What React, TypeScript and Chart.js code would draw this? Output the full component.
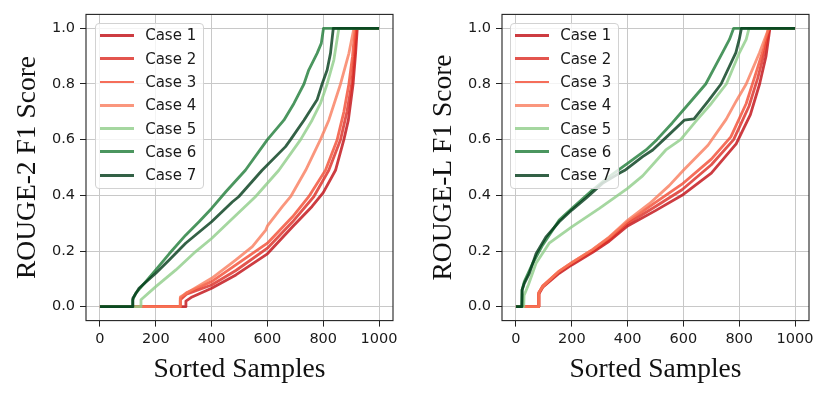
import { useEffect, useRef, type FC } from 'react';
import Chart from 'chart.js/auto';

type Pt = [number, number];

const caseNames = ['Case 1', 'Case 2', 'Case 3', 'Case 4', 'Case 5', 'Case 6', 'Case 7'];
const caseColors = ['#c00b12', '#dc2a22', '#f24a31', '#f97c5c', '#8ecd88', '#1e7c37', '#003a18'];
const xTicks = [0, 200, 400, 600, 800, 1000];
const yTicks = [0, 0.2, 0.4, 0.6, 0.8, 1.0];

// ROUGE-2 panel, points
const rouge2Case1: Pt[] = [[0, 0], [307, 0], [308, 0.02], [330, 0.035], [400, 0.066], [487, 0.114], [600, 0.19], [690, 0.287], [760, 0.36], [800, 0.41], [844, 0.49], [874, 0.6], [890, 0.67], [907, 0.8], [916, 0.91], [922, 1], [1000, 1]];
const rouge2Case2: Pt[] = [[0, 0], [287, 0], [288, 0.025], [310, 0.045], [400, 0.078], [487, 0.13], [600, 0.21], [690, 0.305], [766, 0.395], [820, 0.49], [862, 0.6], [885, 0.7], [902, 0.8], [912, 0.9], [919, 1], [1000, 1]];
const rouge2Case3: Pt[] = [[0, 0], [287, 0], [288, 0.03], [310, 0.05], [400, 0.09], [487, 0.15], [600, 0.228], [690, 0.323], [748, 0.395], [808, 0.49], [850, 0.6], [874, 0.7], [892, 0.8], [905, 0.9], [914, 1], [1000, 1]];
const rouge2Case4: Pt[] = [[0, 0], [287, 0], [288, 0.035], [319, 0.054], [400, 0.102], [487, 0.168], [546, 0.216], [594, 0.275], [600, 0.29], [654, 0.36], [683, 0.395], [737, 0.49], [790, 0.6], [820, 0.67], [862, 0.8], [892, 0.91], [910, 1], [1000, 1]];
const rouge2Case5: Pt[] = [[0, 0], [146, 0], [147, 0.025], [200, 0.072], [272, 0.132], [343, 0.198], [400, 0.245], [475, 0.317], [557, 0.395], [641, 0.49], [719, 0.6], [760, 0.67], [790, 0.73], [814, 0.8], [838, 0.886], [856, 1], [1000, 1]];
const rouge2Case6: Pt[] = [[0, 0], [116, 0], [117, 0.024], [128, 0.048], [164, 0.09], [200, 0.132], [248, 0.19], [307, 0.257], [355, 0.305], [400, 0.353], [451, 0.413], [521, 0.49], [600, 0.6], [659, 0.67], [695, 0.73], [731, 0.8], [748, 0.85], [778, 0.91], [793, 0.946], [801, 1], [1000, 1]];
const rouge2Case7: Pt[] = [[0, 0], [117, 0], [118, 0.03], [140, 0.066], [200, 0.12], [248, 0.168], [307, 0.228], [400, 0.305], [475, 0.377], [497, 0.395], [581, 0.49], [665, 0.575], [683, 0.6], [731, 0.67], [778, 0.743], [796, 0.8], [814, 0.85], [826, 0.91], [836, 1], [1000, 1]];

// ROUGE-L panel
const rougeLCase1: Pt[] = [[0, 0], [81, 0], [82, 0.045], [96, 0.07], [155, 0.12], [200, 0.15], [275, 0.195], [334, 0.235], [400, 0.29], [500, 0.345], [595, 0.4], [700, 0.48], [789, 0.585], [840, 0.69], [873, 0.8], [896, 0.9], [910, 1], [1000, 1]];
const rougeLCase2: Pt[] = [[0, 0], [81, 0], [82, 0.05], [96, 0.072], [155, 0.125], [200, 0.155], [275, 0.2], [334, 0.24], [400, 0.298], [500, 0.36], [595, 0.42], [700, 0.51], [780, 0.6], [835, 0.72], [866, 0.82], [892, 0.92], [908, 1], [1000, 1]];
const rougeLCase3: Pt[] = [[0, 0], [81, 0], [82, 0.05], [96, 0.075], [155, 0.128], [200, 0.158], [275, 0.205], [334, 0.248], [400, 0.305], [500, 0.375], [595, 0.44], [700, 0.53], [770, 0.61], [825, 0.73], [860, 0.84], [888, 0.93], [905, 1], [1000, 1]];
const rougeLCase4: Pt[] = [[0, 0], [81, 0], [82, 0.05], [96, 0.072], [155, 0.128], [200, 0.158], [275, 0.206], [334, 0.25], [400, 0.31], [478, 0.37], [549, 0.435], [600, 0.49], [688, 0.58], [753, 0.673], [790, 0.74], [825, 0.8], [873, 0.913], [906, 1], [1000, 1]];
const rougeLCase5: Pt[] = [[0, 0], [28, 0], [29, 0.04], [45, 0.08], [72, 0.156], [119, 0.228], [200, 0.287], [299, 0.353], [400, 0.425], [454, 0.47], [537, 0.563], [590, 0.6], [648, 0.67], [700, 0.73], [754, 0.8], [801, 0.913], [825, 0.96], [835, 1], [1000, 1]];
const rougeLCase6: Pt[] = [[0, 0], [21, 0], [22, 0.06], [30, 0.09], [60, 0.156], [96, 0.222], [155, 0.311], [200, 0.353], [275, 0.42], [334, 0.467], [400, 0.515], [466, 0.563], [505, 0.6], [560, 0.66], [620, 0.73], [680, 0.8], [740, 0.913], [765, 0.96], [780, 1], [1000, 1]];
const rougeLCase7: Pt[] = [[0, 0], [21, 0], [22, 0.06], [30, 0.084], [48, 0.12], [72, 0.19], [107, 0.25], [155, 0.305], [200, 0.347], [251, 0.39], [310, 0.443], [370, 0.479], [390, 0.49], [454, 0.539], [490, 0.563], [540, 0.61], [603, 0.67], [638, 0.675], [690, 0.74], [735, 0.8], [788, 0.913], [800, 0.96], [808, 1], [1000, 1]];

const rouge2Cases = [rouge2Case1, rouge2Case2, rouge2Case3, rouge2Case4, rouge2Case5, rouge2Case6, rouge2Case7];
const rougeLCases = [rougeLCase1, rougeLCase2, rougeLCase3, rougeLCase4, rougeLCase5, rougeLCase6, rougeLCase7];

const tickFont = { family: "'DejaVu Sans', sans-serif", size: 14.5 };
const titleFont = { family: "'Liberation Serif', 'Times New Roman', serif", size: 27.5, lineHeight: 1.2 };

const withAlpha = (hex: string, a: number) => {
    const n = parseInt(hex.slice(1), 16);
    return `rgba(${(n >> 16) & 255}, ${(n >> 8) & 255}, ${n & 255}, ${a})`;
};

// matplotlib-style box around the axes
const framePlugin = {
    id: 'frame',
    afterDatasetsDraw(chart: any) {
        const { ctx, chartArea: a } = chart;
        ctx.save();
        ctx.strokeStyle = '#222';
        ctx.lineWidth = 1.1;
        ctx.strokeRect(a.left, a.top, a.right - a.left, a.bottom - a.top);
        ctx.restore();
    }
};

const Panel: FC<{ cases: Pt[][]; yTitle: string; yWidth: number; rightPad: number; yTitlePad: number }> = ({ cases, yTitle, yWidth, rightPad, yTitlePad }) => {
    const canvas = useRef<HTMLCanvasElement>(null);

    useEffect(() => {
        const chart = new Chart(canvas.current!, {
            type: 'line',
            data: {
                datasets: cases.map((pts, i) => ({
                    label: caseNames[i],
                    data: pts.map(([x, y]) => ({ x, y })),
                    borderColor: withAlpha(caseColors[i], 0.8),
                    borderWidth: 2.8,
                    borderJoinStyle: 'round' as const,
                    pointRadius: 0,
                    tension: 0,
                    fill: false,
                    order: caseNames.length - i,
                })),
            },
            options: {
                animation: false,
                responsive: true,
                maintainAspectRatio: false,
                layout: { padding: { top: 14.4, right: rightPad, left: 0, bottom: 0 } },
                plugins: { legend: { display: false }, tooltip: { enabled: false } },
                scales: {
                    x: {
                        type: 'linear',
                        min: -50,
                        max: 1050,
                        afterBuildTicks: (s: any) => { s.ticks = xTicks.map(v => ({ value: v })); },
                        afterFit: (s: any) => { s.height = 84.4; },
                        grid: { color: '#c8c8c8', lineWidth: 1, tickColor: '#222', tickLength: 6 },
                        border: { display: false },
                        ticks: {
                            color: '#1a1a1a',
                            font: tickFont,
                            padding: 4,
                            maxRotation: 0,
                            autoSkip: false,
                            callback: (v: any) => String(v),
                        },
                        title: { display: true, text: 'Sorted Samples', color: '#111', font: titleFont, padding: { top: 0, bottom: 19 } },
                    },
                    y: {
                        type: 'linear',
                        min: -0.05,
                        max: 1.05,
                        afterBuildTicks: (s: any) => { s.ticks = yTicks.map(v => ({ value: v })); },
                        afterFit: (s: any) => { s.width = yWidth; },
                        grid: { color: '#c8c8c8', lineWidth: 1, tickColor: '#222', tickLength: 6 },
                        border: { display: false },
                        ticks: {
                            color: '#1a1a1a',
                            font: tickFont,
                            padding: 5,
                            autoSkip: false,
                            callback: (v: any) => Number(v).toFixed(1),
                        },
                        title: { display: true, text: yTitle, color: '#111', font: titleFont, padding: { top: yTitlePad, bottom: 0 } },
                    },
                },
            },
            plugins: [framePlugin],
        });

        return () => {
            chart.destroy();
        };
    }, [cases, yTitle, yWidth, rightPad, yTitlePad]);

    return (
        <div style={{ position: 'relative', width: 415, height: 405 }}>
            <canvas ref={canvas} role="img" aria-label={yTitle}></canvas>
            <div
                style={{
                    position: 'absolute',
                    left: 95,
                    top: 22.7,
                    width: 109,
                    height: 166,
                    boxSizing: 'border-box',
                    border: '1px solid #d2d2d2',
                    borderRadius: 4,
                    background: 'rgba(255,255,255,0.8)',
                    fontFamily: "'DejaVu Sans', sans-serif",
                    fontSize: 15,
                    color: '#1a1a1a',
                }}
            >
                {caseNames.map((name, i) => (
                    <div
                        key={name}
                        style={{ position: 'absolute', left: 0, top: 0 + i * 23.3, height: 23.3, display: 'flex', alignItems: 'center', whiteSpace: 'nowrap' }}
                    >
                        <span style={{ display: 'inline-block', marginLeft: 3.5, width: 34, height: 2.8, background: withAlpha(caseColors[i], 0.8) }}></span>
                        <span style={{ marginLeft: 11.7 }}>{name}</span>
                    </div>
                ))}
            </div>
        </div>
    );
};

const App: FC = () => (
    <div style={{ position: 'absolute', left: 0, top: 0, width: 830, height: 405, display: 'flex', background: '#fff' }}>
        <Panel cases={rouge2Cases} yTitle="ROUGE-2 F1 Score" yWidth={86} rightPad={22} yTitlePad={11} />
        <Panel cases={rougeLCases} yTitle="ROUGE-L F1 Score" yWidth={87} rightPad={21} yTitlePad={12.5} />
    </div>
);

export default App;
